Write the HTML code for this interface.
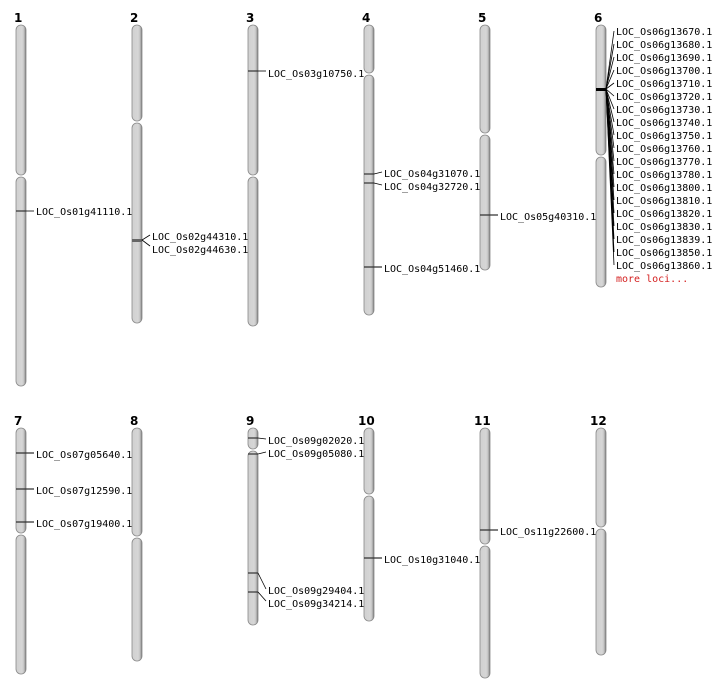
<!DOCTYPE html>
<html><head><meta charset="utf-8"><style>
html,body{margin:0;padding:0;background:#fff;width:712px;height:700px;overflow:hidden}
text{font-family:"DejaVu Sans Mono","Liberation Mono",monospace;font-size:10px;fill:#000}
.n{font-family:"DejaVu Sans","Liberation Sans",sans-serif;font-weight:bold;font-size:12px}
.c{fill:url(#g);stroke:#888;stroke-width:0.8}
.m{stroke:#333;stroke-width:1.2}
.l{stroke:#000;stroke-width:0.8;fill:none}
</style></head><body>
<svg width="712" height="700" viewBox="0 0 712 700" xmlns="http://www.w3.org/2000/svg">
<defs><linearGradient id="g" x1="0" x2="1" y1="0" y2="0">
<stop offset="0" stop-color="#d0d0d0"/><stop offset="0.6" stop-color="#d6d6d6"/><stop offset="0.8" stop-color="#c4c4c4"/><stop offset="1" stop-color="#707070"/></linearGradient></defs>

<!-- chromosome labels -->
<text class="n" x="14" y="22">1</text><text class="n" x="130" y="22">2</text><text class="n" x="246" y="22">3</text>
<text class="n" x="362" y="22">4</text><text class="n" x="478" y="22">5</text><text class="n" x="594" y="22">6</text>
<text class="n" x="14" y="425">7</text><text class="n" x="130" y="425">8</text><text class="n" x="246" y="425">9</text>
<text class="n" x="358" y="425">10</text><text class="n" x="474" y="425">11</text><text class="n" x="590" y="425">12</text>

<!-- chromosomes: x, top, cen, bottom -->
<rect class="c" x="16" y="25" width="10" height="150" rx="5"/><rect class="c" x="16" y="177" width="10" height="209" rx="5"/>
<rect class="c" x="132" y="25" width="10" height="96" rx="5"/><rect class="c" x="132" y="123" width="10" height="200" rx="5"/>
<rect class="c" x="248" y="25" width="10" height="150" rx="5"/><rect class="c" x="248" y="177" width="10" height="149" rx="5"/>
<rect class="c" x="364" y="25" width="10" height="48" rx="5"/><rect class="c" x="364" y="75" width="10" height="240" rx="5"/>
<rect class="c" x="480" y="25" width="10" height="108" rx="5"/><rect class="c" x="480" y="135" width="10" height="135" rx="5"/>
<rect class="c" x="596" y="25" width="10" height="130" rx="5"/><rect class="c" x="596" y="157" width="10" height="130" rx="5"/>

<rect class="c" x="16" y="428" width="10" height="105" rx="5"/><rect class="c" x="16" y="535" width="10" height="139" rx="5"/>
<rect class="c" x="132" y="428" width="10" height="108" rx="5"/><rect class="c" x="132" y="538" width="10" height="123" rx="5"/>
<rect class="c" x="248" y="428" width="10" height="21" rx="5"/><rect class="c" x="248" y="451" width="10" height="174" rx="5"/>
<rect class="c" x="364" y="428" width="10" height="66" rx="5"/><rect class="c" x="364" y="496" width="10" height="125" rx="5"/>
<rect class="c" x="480" y="428" width="10" height="116" rx="5"/><rect class="c" x="480" y="546" width="10" height="132" rx="5"/>
<rect class="c" x="596" y="428" width="10" height="99" rx="5"/><rect class="c" x="596" y="529" width="10" height="126" rx="5"/>

<!-- chr1 -->
<line class="m" x1="16" y1="211" x2="26" y2="211"/><line class="l" x1="26" y1="211" x2="34" y2="211"/>
<text x="36" y="215">LOC_Os01g41110.1</text>
<!-- chr2 -->
<rect x="132" y="239" width="10" height="3" fill="#666"/>
<polyline class="l" points="150,235 142,240 150,246"/>
<text x="152" y="240">LOC_Os02g44310.1</text><text x="152" y="253">LOC_Os02g44630.1</text>
<!-- chr3 -->
<line class="m" x1="248" y1="71" x2="258" y2="71"/><line class="l" x1="258" y1="71" x2="266" y2="71"/>
<text x="268" y="77">LOC_Os03g10750.1</text>
<!-- chr4 -->
<line class="m" x1="364" y1="174" x2="374" y2="174"/><line class="m" x1="364" y1="183" x2="374" y2="183"/>
<polyline class="l" points="374,174 382,172"/><polyline class="l" points="374,183 382,185"/>
<text x="384" y="177">LOC_Os04g31070.1</text><text x="384" y="190">LOC_Os04g32720.1</text>
<line class="m" x1="364" y1="267" x2="382" y2="267"/>
<text x="384" y="272">LOC_Os04g51460.1</text>
<!-- chr5 -->
<line class="m" x1="480" y1="215" x2="498" y2="215"/>
<text x="500" y="220">LOC_Os05g40310.1</text>
<!-- chr6 -->
<rect x="596" y="88" width="10" height="3" fill="#000"/>
<g class="l">
<line x1="606" y1="89" x2="614" y2="31"/><line x1="606" y1="89" x2="614" y2="44"/><line x1="606" y1="89" x2="614" y2="57"/>
<line x1="606" y1="89" x2="614" y2="70"/><line x1="606" y1="89" x2="614" y2="83"/><line x1="606" y1="89" x2="614" y2="96"/>
<line x1="606" y1="89" x2="614" y2="109"/><line x1="606" y1="89" x2="614" y2="122"/><line x1="606" y1="89" x2="614" y2="135"/>
<line x1="606" y1="89" x2="614" y2="148"/><line x1="606" y1="89" x2="614" y2="161"/><line x1="606" y1="89" x2="614" y2="174"/>
<line x1="606" y1="89" x2="614" y2="187"/><line x1="606" y1="89" x2="614" y2="200"/><line x1="606" y1="89" x2="614" y2="213"/>
<line x1="606" y1="89" x2="614" y2="226"/><line x1="606" y1="89" x2="614" y2="239"/><line x1="606" y1="89" x2="614" y2="252"/>
<line x1="606" y1="89" x2="614" y2="265"/>
</g>
<text x="616" y="35">LOC_Os06g13670.1</text><text x="616" y="48">LOC_Os06g13680.1</text><text x="616" y="61">LOC_Os06g13690.1</text>
<text x="616" y="74">LOC_Os06g13700.1</text><text x="616" y="87">LOC_Os06g13710.1</text><text x="616" y="100">LOC_Os06g13720.1</text>
<text x="616" y="113">LOC_Os06g13730.1</text><text x="616" y="126">LOC_Os06g13740.1</text><text x="616" y="139">LOC_Os06g13750.1</text>
<text x="616" y="152">LOC_Os06g13760.1</text><text x="616" y="165">LOC_Os06g13770.1</text><text x="616" y="178">LOC_Os06g13780.1</text>
<text x="616" y="191">LOC_Os06g13800.1</text><text x="616" y="204">LOC_Os06g13810.1</text><text x="616" y="217">LOC_Os06g13820.1</text>
<text x="616" y="230">LOC_Os06g13830.1</text><text x="616" y="243">LOC_Os06g13839.1</text><text x="616" y="256">LOC_Os06g13850.1</text>
<text x="616" y="269">LOC_Os06g13860.1</text>
<text x="616" y="282" style="fill:#d42020">more loci...</text>
<!-- chr7 -->
<line class="m" x1="16" y1="453" x2="34" y2="453"/><line class="m" x1="16" y1="489" x2="34" y2="489"/><line class="m" x1="16" y1="522" x2="34" y2="522"/>
<text x="36" y="458">LOC_Os07g05640.1</text><text x="36" y="494">LOC_Os07g12590.1</text><text x="36" y="527">LOC_Os07g19400.1</text>
<!-- chr9 -->
<line class="m" x1="248" y1="438" x2="258" y2="438"/><line class="m" x1="248" y1="454" x2="258" y2="454"/>
<polyline class="l" points="258,438 266,439"/><polyline class="l" points="258,454 266,452"/>
<text x="268" y="444">LOC_Os09g02020.1</text><text x="268" y="457">LOC_Os09g05080.1</text>
<line class="m" x1="248" y1="573" x2="258" y2="573"/><line class="m" x1="248" y1="592" x2="258" y2="592"/>
<polyline class="l" points="258,573 266,589"/><polyline class="l" points="258,592 266,601"/>
<text x="268" y="594">LOC_Os09g29404.1</text><text x="268" y="607">LOC_Os09g34214.1</text>
<!-- chr10 -->
<line class="m" x1="364" y1="558" x2="382" y2="558"/>
<text x="384" y="563">LOC_Os10g31040.1</text>
<!-- chr11 -->
<line class="m" x1="480" y1="530" x2="498" y2="530"/>
<text x="500" y="535">LOC_Os11g22600.1</text>
</svg>
</body></html>
